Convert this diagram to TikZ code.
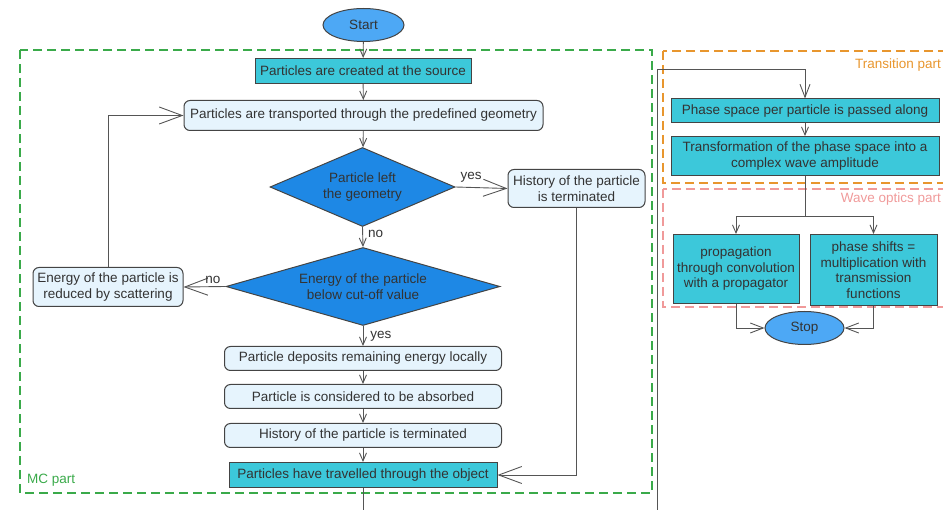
\documentclass[tikz,border=0pt]{standalone}
\usepackage{fontspec}
\setmainfont{Liberation Sans}
\usetikzlibrary{shapes.geometric,arrows.meta}
\definecolor{teal1}{HTML}{3CC8DA}
\definecolor{dblue}{HTML}{1E88E5}
\definecolor{eblue}{HTML}{4DA8F5}
\definecolor{lblue}{HTML}{E6F4FD}
\definecolor{bord}{HTML}{444444}
\definecolor{txt}{HTML}{333333}
\definecolor{conn}{HTML}{555555}
\definecolor{mcgreen}{HTML}{3AAA4A}
\definecolor{trorange}{HTML}{E8962E}
\definecolor{wvpink}{HTML}{F09A9A}
\tikzset{
  base/.style={draw=bord, line width=1pt, text=txt, align=center, inner sep=0pt,
    font=\fontsize{13.5}{15.5}\selectfont},
  tealbox/.style={base, fill=teal1, rectangle},
  softbox/.style={base, fill=lblue, rectangle, rounded corners=6pt},
  decide/.style={base, fill=dblue, diamond},
  term/.style={base, fill=eblue, ellipse},
  conline/.style={draw=conn, line width=0.9pt},
  sarrow/.style={conline, -{Straight Barb[length=8pt,width=7pt]}},
  marrow/.style={conline, -{Straight Barb[length=13pt,width=10pt]}},
  barrow/.style={conline, -{Straight Barb[length=23pt,width=17pt]}},
  region/.style={line width=1.3pt, dash pattern=on 9pt off 5pt},
  lbl/.style={text=txt, font=\fontsize{13.5}{15.5}\selectfont, inner sep=1pt},
  partlbl/.style={font=\fontsize{13.5}{15.5}\selectfont, inner sep=0pt}
}
\begin{document}
\begin{tikzpicture}[x=1pt,y=-1pt]
\path[use as bounding box, clip] (0,0) rectangle (943,510);
% regions
\draw[region, draw=mcgreen] (20,50) rectangle (652,493);
\draw[region, draw=trorange] (663,51) rectangle (960,183);
\draw[region, draw=wvpink] (663,189) rectangle (960,307);
\node[partlbl, text=mcgreen, anchor=west] (mclbl) at (27,480.5) {MC part};
\node[partlbl, text=trorange, anchor=east] (trlbl) at (941,65.5) {Transition part};
\node[partlbl, text=wvpink, anchor=east] (wvlbl) at (941,199.5) {Wave optics part};
% nodes
\node[term, minimum width=81pt, minimum height=33pt] (start) at (363.5,25) {Start};
\node[tealbox, minimum width=216pt, minimum height=25pt] (created) at (363,71) {Particles are created at the source};
\node[softbox, minimum width=359pt, minimum height=30pt] (transported) at (363.5,115.5) {Particles are transported through the predefined geometry};
\node[decide, shape aspect=2.34, minimum width=185pt, minimum height=79pt] (d1) at (362.5,187) {Particle left\\the geometry};
\node[softbox, minimum width=137pt, minimum height=38pt] (histR) at (576.5,188.5) {History of the particle\\is terminated};
\node[decide, shape aspect=3.5, minimum width=274pt, minimum height=78pt] (d2) at (363,286.5) {Energy of the particle\\below cut-off value};
\node[softbox, minimum width=150pt, minimum height=39pt] (energy) at (108,287) {Energy of the particle is\\reduced by scattering};
\node[softbox, minimum width=277pt, minimum height=24pt] (deposits) at (363,358.5) {Particle deposits remaining energy locally};
\node[softbox, minimum width=277pt, minimum height=24pt] (absorbed) at (363,396.5) {Particle is considered to be absorbed};
\node[softbox, minimum width=277pt, minimum height=24pt] (terminated) at (363,435.5) {History of the particle is terminated};
\node[tealbox, minimum width=268pt, minimum height=25pt] (travelled) at (363,475) {Particles have travelled through the object};
\node[tealbox, minimum width=268pt, minimum height=24pt] (phase) at (805,111) {Phase space per particle is passed along};
\node[tealbox, minimum width=268pt, minimum height=39pt] (transform) at (805,156) {Transformation of the phase space into a\\complex wave amplitude};
\node[tealbox, minimum width=126pt, minimum height=69pt] (prop) at (736,269) {propagation\\through convolution\\with a propagator};
\node[tealbox, minimum width=127pt, minimum height=71pt] (shifts) at (873.5,270) {phase shifts =\\multiplication with\\transmission\\functions};
\node[term, minimum width=79pt, minimum height=33pt] (stop) at (804.5,328) {Stop};
% connectors
\coordinate (up) at (657,69);
\coordinate (split) at (805,216);
\draw[sarrow] (start) -- (created);
\draw[sarrow] (created) -- (transported);
\draw[sarrow] (transported) -- (d1);
\draw[barrow] (d1.east) -- node[lbl, pos=0.3, above=4pt] {yes} (histR.west);
\draw[sarrow] (d1.south) -- node[lbl, right=4pt, pos=0.35] {no} (d2.north);
\draw[barrow] (d2.west) -- node[lbl, pos=0.3, above=2pt] {no} (energy.east);
\draw[barrow] (energy.north) |- (transported.west);
\draw[sarrow] (d2.south) -- node[lbl, right=6pt, pos=0.5] {yes} (deposits.north);
\draw[sarrow] (deposits) -- (absorbed);
\draw[sarrow] (absorbed) -- (terminated);
\draw[sarrow] (terminated) -- (travelled);
\draw[barrow] (histR.south) |- (travelled.east);
\draw[marrow] (travelled.south) -- ++(0,60) -| (up) -| (phase.north);
\draw[sarrow] (phase) -- (transform);
\draw[conline] (transform.south) -- (split);
\draw[sarrow] (split) -| (prop.north);
\draw[sarrow] (split) -| (shifts.north);
\draw[marrow] (prop.south) |- (stop.west);
\draw[marrow] (shifts.south) |- (stop.east);
\end{tikzpicture}
\end{document}
